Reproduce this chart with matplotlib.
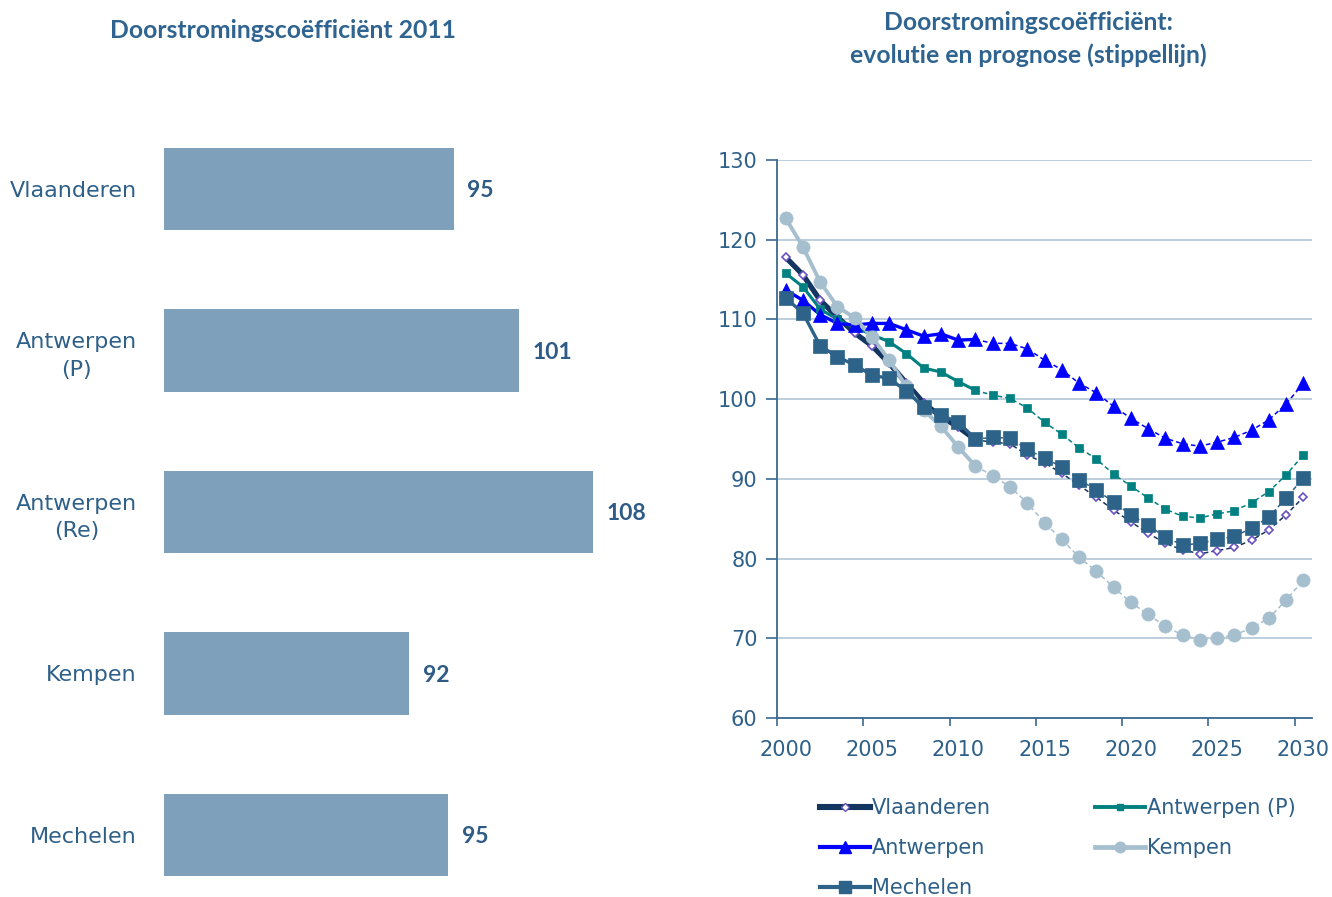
import numpy as np
import matplotlib
matplotlib.use('Agg')
import matplotlib.pyplot as plt
from matplotlib.lines import Line2D

# Data - staafdiagram 2011
regios = ['Vlaanderen', 'Antwerpen\n(P)', 'Antwerpen\n(Re)', 'Kempen', 'Mechelen']
waarden_2011 = [95.4, 101.1, 107.6, 91.5, 94.9]

# Data - evolutie en prognose
jaren = list(range(2000, 2031))
laatste_jaar_obs = 2011
vlaanderen = [117.8, 115.6, 112.4, 110.3, 108.3, 106.7, 104.5, 102.0, 99.5, 97.8, 96.5,
              94.9, 94.6, 94.4, 93.0, 92.0, 90.7, 89.2, 87.7, 86.1, 84.6, 83.2, 81.9,
              81.1, 80.6, 81.0, 81.4, 82.3, 83.6, 85.5, 87.7]
antwerpen_p = [115.8, 114.1, 111.3, 110.0, 109.0, 108.1, 107.2, 105.7, 103.9, 103.4, 102.2,
               101.1, 100.5, 100.1, 98.9, 97.1, 95.6, 93.9, 92.5, 90.6, 89.1, 87.6, 86.2,
               85.3, 85.1, 85.6, 86.0, 87.0, 88.4, 90.5, 93.0]
antwerpen = [113.7, 112.4, 110.6, 109.5, 109.3, 109.5, 109.5, 108.7, 107.9, 108.2, 107.4,
             107.5, 107.0, 107.0, 106.3, 104.9, 103.7, 102.0, 100.8, 99.1, 97.6, 96.3, 95.1,
             94.4, 94.1, 94.6, 95.2, 96.1, 97.4, 99.4, 102.0]
kempen = [122.7, 119.1, 114.7, 111.6, 110.2, 107.8, 104.9, 101.6, 98.6, 96.6, 94.0,
          91.6, 90.4, 89.0, 87.0, 84.5, 82.4, 80.2, 78.4, 76.4, 74.5, 73.0, 71.5,
          70.4, 69.8, 70.0, 70.4, 71.3, 72.5, 74.8, 77.3]
mechelen = [112.7, 110.8, 106.7, 105.3, 104.3, 103.0, 102.6, 101.0, 99.0, 98.0, 97.1,
            95.0, 95.2, 95.1, 93.7, 92.6, 91.5, 89.9, 88.6, 87.1, 85.5, 84.2, 82.7,
            81.7, 81.9, 82.4, 82.8, 83.8, 85.2, 87.6, 90.1]

tekst_kleur = '#2E6089'
titel_kleur = '#2F6490'

fig = plt.figure(figsize=(13.32, 8.97), dpi=100)

# ---- links: staafdiagram ----
ax1 = fig.add_axes([164/1332, 0, 513/1332, 797/897])
pos = np.arange(len(regios))
ax1.barh(pos, waarden_2011, height=0.51, color='#7FA0BA', left=0)
ax1.set_xlim(70, 115)
ax1.set_ylim(4.384, -0.551)
ax1.set_yticks(pos)
ax1.set_yticklabels(regios, fontsize=16, color=tekst_kleur, multialignment='center',
                    linespacing=1.45)
ax1.tick_params(axis='y', length=0, pad=19.5)
ax1.set_xticks([])
for s in ax1.spines.values():
    s.set_visible(False)
for p, v in zip(pos, waarden_2011):
    ax1.text(v + 1.2, p + 0.01, f'{v:.0f}', va='center', ha='left', fontsize=16.5,
             fontweight='bold', color='#2E5C86', family='Lato')

fig.text(283/1332, 1 - 30/897, 'Doorstromingscoëfficiënt 2011', ha='center', va='center',
         fontsize=17.8, fontweight='bold', color=titel_kleur, family='Lato')

# ---- rechts: lijngrafiek ----
ax2 = fig.add_axes([777/1332, 1 - 718/897, 535/1332, 558/897])
series = [
    ('Vlaanderen', vlaanderen, '#12365F', 'D', 4.5, 3.8, 'white', '#6A50C0'),
    ('Antwerpen (P)', antwerpen_p, '#008080', 's', 6, 2.2, '#008080', '#008080'),
    ('Antwerpen', antwerpen, '#0000FF', '^', 10, 2.4, '#0000FF', '#0000FF'),
    ('Kempen', kempen, '#A6BFCF', 'o', 9.5, 2.8, '#A6BFCF', '#A6BFCF'),
    ('Mechelen', mechelen, '#2D6389', 's', 10, 2.4, '#2D6389', '#2D6389'),
]
jaren_arr = np.array(jaren)
handles = {}
for naam, y, kleur, mk, ms, lw, mfc, mec in series:
    y = np.array(y)
    obs = jaren_arr <= laatste_jaar_obs
    prog = jaren_arr >= laatste_jaar_obs
    ax2.plot(jaren_arr[obs], y[obs], color=kleur, lw=lw, solid_capstyle='round', zorder=2)
    ax2.plot(jaren_arr[prog], y[prog], color=kleur, lw=1.1, ls=(0, (3, 2)), zorder=2)
    ax2.plot(jaren_arr, y, ls='none', marker=mk, ms=ms, mfc=mfc, mec=mec,
             mew=1.2 if mk == 'D' else 0.5, zorder=3)
    handles[naam] = Line2D([], [], color=kleur, lw=lw + 0.6, marker=mk, ms=ms * 0.8,
                           mfc=mfc, mec=mec)

ax2.set_ylim(60, 130)
ax2.set_yticks(range(60, 131, 10))
ax2.set_xlim(1999.5, 2030.5)
ax2.set_xticks(np.arange(1999.5, 2030, 5))
ax2.set_xticklabels([])
ax2.set_xticks(range(2000, 2031, 5), minor=True)
ax2.set_xticklabels([str(j) for j in range(2000, 2031, 5)], minor=True)
ax2.tick_params(axis='x', which='major', length=6, color='#3B6A90', width=1.2)
ax2.tick_params(axis='x', which='minor', length=0, pad=16, labelsize=15, labelcolor=tekst_kleur)
ax2.tick_params(axis='y', length=8, color='#3B6A90', width=1.2, pad=6,
                labelsize=15, labelcolor=tekst_kleur)
ax2.grid(axis='y', color='#B7CAD8', lw=1.3)
ax2.set_axisbelow(True)
for kant in ['top', 'right']:
    ax2.spines[kant].set_visible(False)
for kant in ['left', 'bottom']:
    ax2.spines[kant].set_color('#3B6A90')
    ax2.spines[kant].set_linewidth(1.3)

fig.text(1028/1332, 1 - 22/897, 'Doorstromingscoëfficiënt:', ha='center', va='center',
         fontsize=17.8, fontweight='bold', color=titel_kleur, family='Lato')
fig.text(1028/1332, 1 - 55/897, 'evolutie en prognose (stippellijn)', ha='center', va='center',
         fontsize=17.8, fontweight='bold', color=titel_kleur, family='Lato')

volgorde = ['Vlaanderen', 'Antwerpen', 'Mechelen', 'Antwerpen (P)', 'Kempen']
leg = fig.legend([handles[n] for n in volgorde], volgorde, loc='upper left',
                 bbox_to_anchor=(820/1332, 1 - 798/897), ncol=2, frameon=False,
                 fontsize=15, handlelength=2.4, handletextpad=0.1, columnspacing=5.0,
                 labelspacing=0.96, borderpad=0, borderaxespad=0)
for t in leg.get_texts():
    t.set_color(tekst_kleur)

fig.savefig('out.png', dpi=100)
